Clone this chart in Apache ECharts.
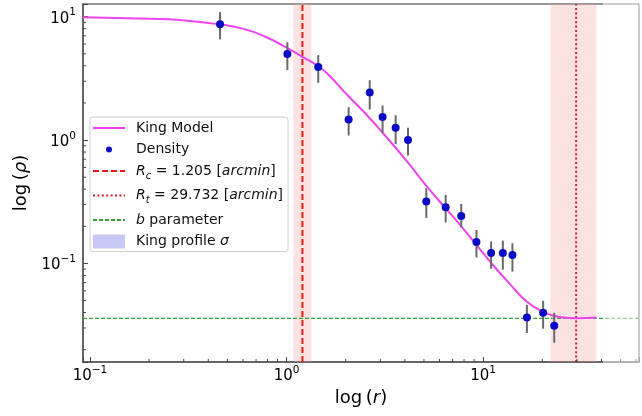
<!DOCTYPE html>
<html>
<head>
<meta charset="utf-8">
<script src="https://cdn.jsdelivr.net/npm/echarts@6/dist/echarts.min.js"></script>
<style>
  html, body { margin: 0; padding: 0; background: #fff; }
  #chart { width: 642px; height: 416px; }
</style>
</head>
<body>
<div id="chart"></div>
<script>
// King model curve
const kingR = [0.0922, 0.201, 0.285, 0.459, 0.618, 0.780, 0.985, 1.205, 1.451, 1.63, 2.056, 2.595, 3.27, 4.13, 5.21, 6.45, 7.69, 9.33, 11.3, 13.7, 16.7, 20.3, 24.6, 29.9, 37.7]
const kingRho = [9.91, 9.62, 9.40, 8.67, 7.90, 6.88, 5.70, 4.73, 3.97, 3.40, 2.29, 1.56, 1.03, 0.662, 0.415, 0.280, 0.203, 0.139, 0.0958, 0.0681, 0.0489, 0.0405, 0.0369, 0.0360, 0.0364]

// density points + error bars
const densR = [0.459, 1.01, 1.45, 2.07, 2.65, 3.08, 3.59, 4.15, 5.14, 6.45, 7.74, 9.25, 10.98, 12.6, 14.1, 16.7, 20.2, 23.0]
const densRho = [8.67, 4.98, 3.92, 1.47, 2.43, 1.54, 1.26, 1.00, 0.318, 0.285, 0.243, 0.149, 0.1216, 0.1216, 0.117, 0.0364, 0.0398, 0.0313]
const errLo = [6.55, 3.69, 2.91, 1.09, 1.77, 1.14, 0.93, 0.75, 0.234, 0.215, 0.196, 0.112, 0.0906, 0.089, 0.086, 0.0273, 0.0296, 0.0228]
const errHi = [10.9, 6.22, 4.89, 1.85, 3.06, 1.91, 1.59, 1.26, 0.407, 0.36, 0.304, 0.187, 0.151, 0.153, 0.146, 0.0461, 0.0498, 0.0398]

// fit parameters
const rc = 1.205
const rt = 29.732
const bParam = 0.0359
const rcBand = [1.085, 1.337]
const rtBand = [22.0, 37.7]

// axis extents
const xMin = 0.0922
const xMax = 62.08
const yMin = 0.0159
const yMax = 12.68

// minor ticks (2..9 x 10^n)
const xMinorTicks = [0.2, 0.3, 0.4, 0.5, 0.6, 0.7, 0.8, 0.9, 2, 3, 4, 5, 6, 7, 8, 9, 20, 30, 40, 50, 60]
const yMinorTicks = [0.02, 0.03, 0.04, 0.05, 0.06, 0.07, 0.08, 0.09, 0.2, 0.3, 0.4, 0.5, 0.6, 0.7, 0.8, 0.9, 2, 3, 4, 5, 6, 7, 8, 9]

const FONT = 'DejaVu Sans'

function powLabel(v) {
  const l = Math.log10(v)
  const n = Math.round(l)
  if (Math.abs(l - n) > 1e-6) return ''
  return '{b|10}{s|' + (n < 0 ? '\u2212' + (-n) : n) + '}'
}
const powRich = {
  b: { fontSize: 15, fontFamily: FONT, color: '#000', lineHeight: 19, verticalAlign: 'bottom' },
  s: { fontSize: 10.5, fontFamily: FONT, color: '#000', verticalAlign: 'top' }
}

const legendNames = {
  'King Model': 'King Model',
  'Density': 'Density',
  'Rc': '{i|R}{sub|c}{t| = 1.205 [}{i|arcmin}{t|]}',
  'Rt': '{i|R}{sub|t}{t| = 29.732 [}{i|arcmin}{t|]}',
  'b parameter': '{i|b}{t| parameter}',
  'King profile σ': 'King profile {i|σ}'
}

const chart = echarts.init(document.getElementById('chart'))

chart.setOption({
  animation: false,
  backgroundColor: '#fff',
  grid: {
    left: 83,
    top: 4,
    width: 560,
    height: 358,
    show: true,
    borderColor: '#333',
    borderWidth: 1
  },
  legend: {
    orient: 'vertical',
    left: 90,
    top: 117,
    padding: [4, 5, 3, 2],
    itemWidth: 32,
    itemHeight: 14,
    itemGap: 7.5,
    selectedMode: false,
    backgroundColor: 'rgba(255,255,255,0.85)',
    borderColor: '#cfcfcf',
    borderWidth: 1,
    borderRadius: 3,
    // hide the marker ECharts puts on line icons
    itemStyle: { opacity: 0 },
    data: [
      { name: 'King Model' },
      { name: 'Density', icon: 'path://M0,0 M32,14 M13,7 a3,3 0 1,0 6,0 a3,3 0 1,0 -6,0 Z', itemStyle: { opacity: 1 } },
      { name: 'Rc' },
      { name: 'Rt' },
      { name: 'b parameter' },
      { name: 'King profile σ', icon: 'rect', itemStyle: { opacity: 1 } }
    ],
    formatter: function (name) { return legendNames[name] },
    textStyle: {
      fontFamily: FONT,
      fontSize: 14,
      color: '#111',
      padding: [0, 0, 0, 6],
      rich: {
        t: { fontFamily: FONT, fontSize: 14, color: '#111' },
        i: { fontFamily: FONT, fontSize: 14, fontStyle: 'italic', color: '#111' },
        sub: { fontFamily: FONT, fontSize: 10, fontStyle: 'italic', color: '#111', verticalAlign: 'bottom', lineHeight: 20 }
      }
    }
  },
  xAxis: {
    type: 'log',
    logBase: 10,
    min: xMin,
    max: xMax,
    name: '{n|log\u2009(}{i|r}{n|)}',
    nameLocation: 'middle',
    nameGap: 25,
    nameTextStyle: {
      rich: {
        n: { fontFamily: FONT, fontSize: 18, color: '#000' },
        i: { fontFamily: FONT, fontSize: 18, fontStyle: 'italic', color: '#000' }
      }
    },
    axisLine: { lineStyle: { color: '#555', width: 1.5 } },
    axisTick: { inside: true, length: 5, lineStyle: { color: '#444', width: 1 } },
    axisLabel: { margin: 3, formatter: powLabel, rich: powRich },
    splitLine: { show: false }
  },
  yAxis: {
    type: 'log',
    logBase: 10,
    min: yMin,
    max: yMax,
    name: '{n|log\u2009(}{i|ρ}{n|)}',
    nameLocation: 'middle',
    nameRotate: 90,
    nameGap: 53,
    nameTextStyle: {
      rich: {
        n: { fontFamily: FONT, fontSize: 18, color: '#000' },
        i: { fontFamily: FONT, fontSize: 18, fontStyle: 'italic', color: '#000' }
      }
    },
    axisLine: { lineStyle: { color: '#666', width: 2 } },
    axisTick: { inside: true, length: 5, lineStyle: { color: '#444', width: 1 } },
    axisLabel: { margin: 7, formatter: powLabel, rich: powRich },
    splitLine: { show: false }
  },
  series: [
    {
      name: 'Rc',
      type: 'line',
      symbol: 'none',
      z: 3,
      data: [[rc, yMin], [rc, yMax]],
      itemStyle: { color: '#e31a1c' },
      lineStyle: { color: '#e31a1c', width: 2, type: [6, 3] },
      markArea: {
        silent: true,
        itemStyle: { color: 'rgba(248,160,160,0.3)' },
        data: [[{ xAxis: rcBand[0] }, { xAxis: rcBand[1] }]]
      }
    },
    {
      name: 'Rt',
      type: 'line',
      symbol: 'none',
      z: 3,
      data: [[rt, yMin], [rt, yMax]],
      itemStyle: { color: '#cc1f2a' },
      lineStyle: { color: '#cc1f2a', width: 2, type: [2, 2.4] },
      markArea: {
        silent: true,
        itemStyle: { color: 'rgba(248,160,160,0.3)' },
        data: [[{ xAxis: rtBand[0] }, { xAxis: rtBand[1] }]]
      }
    },
    {
      name: 'b parameter',
      type: 'line',
      symbol: 'none',
      z: 3,
      data: [[xMin, bParam], [xMax, bParam]],
      itemStyle: { color: '#3f9f3f' },
      lineStyle: { color: '#3f9f3f', width: 1.2, type: [4, 2] }
    },
    {
      name: 'King profile σ',
      type: 'custom',
      itemStyle: { color: '#c8c8f5' },
      data: [],
      renderItem: function () { return null }
    },
    {
      name: 'King Model',
      type: 'line',
      symbol: 'none',
      smooth: 0.5,
      z: 4,
      data: kingR.map((r, i) => [r, kingRho[i]]),
      itemStyle: { color: '#ee44ee' },
      lineStyle: { color: '#ee44ee', width: 2 }
    },
    {
      name: 'errorbars',
      type: 'custom',
      z: 5,
      data: densR.map((r, i) => [r, errLo[i], errHi[i]]),
      renderItem: function (params, api) {
        const lo = api.coord([api.value(0), api.value(1)])
        const hi = api.coord([api.value(0), api.value(2)])
        return {
          type: 'line',
          shape: { x1: lo[0], y1: lo[1], x2: hi[0], y2: hi[1] },
          style: { stroke: '#6a6a6a', lineWidth: 2 }
        }
      }
    },
    {
      name: 'Density',
      type: 'scatter',
      z: 6,
      symbolSize: 8,
      data: densR.map((r, i) => [r, densRho[i]]),
      itemStyle: { color: '#0b0bc6', opacity: 1 }
    },
    {
      name: 'xMinor',
      type: 'custom',
      z: 7,
      data: xMinorTicks.map(v => [v, yMin]),
      renderItem: function (params, api) {
        const p = api.coord([api.value(0), api.value(1)])
        return {
          type: 'line',
          shape: { x1: p[0], y1: p[1], x2: p[0], y2: p[1] - 3 },
          style: { stroke: '#444', lineWidth: 1 }
        }
      }
    },
    {
      name: 'yMinor',
      type: 'custom',
      z: 7,
      data: yMinorTicks.map(v => [xMin, v]),
      renderItem: function (params, api) {
        const p = api.coord([api.value(0), api.value(1)])
        return {
          type: 'line',
          shape: { x1: p[0], y1: p[1], x2: p[0] + 3, y2: p[1] },
          style: { stroke: '#444', lineWidth: 1 }
        }
      }
    }
  ],
  graphic: [
    {
      // right strip of the figure is washed out in the source image
      type: 'rect',
      left: 603,
      top: 0,
      shape: { width: 40, height: 368 },
      style: { fill: 'rgba(255,255,255,0.5)' },
      z: 100
    }
  ]
})
</script>
</body>
</html>
